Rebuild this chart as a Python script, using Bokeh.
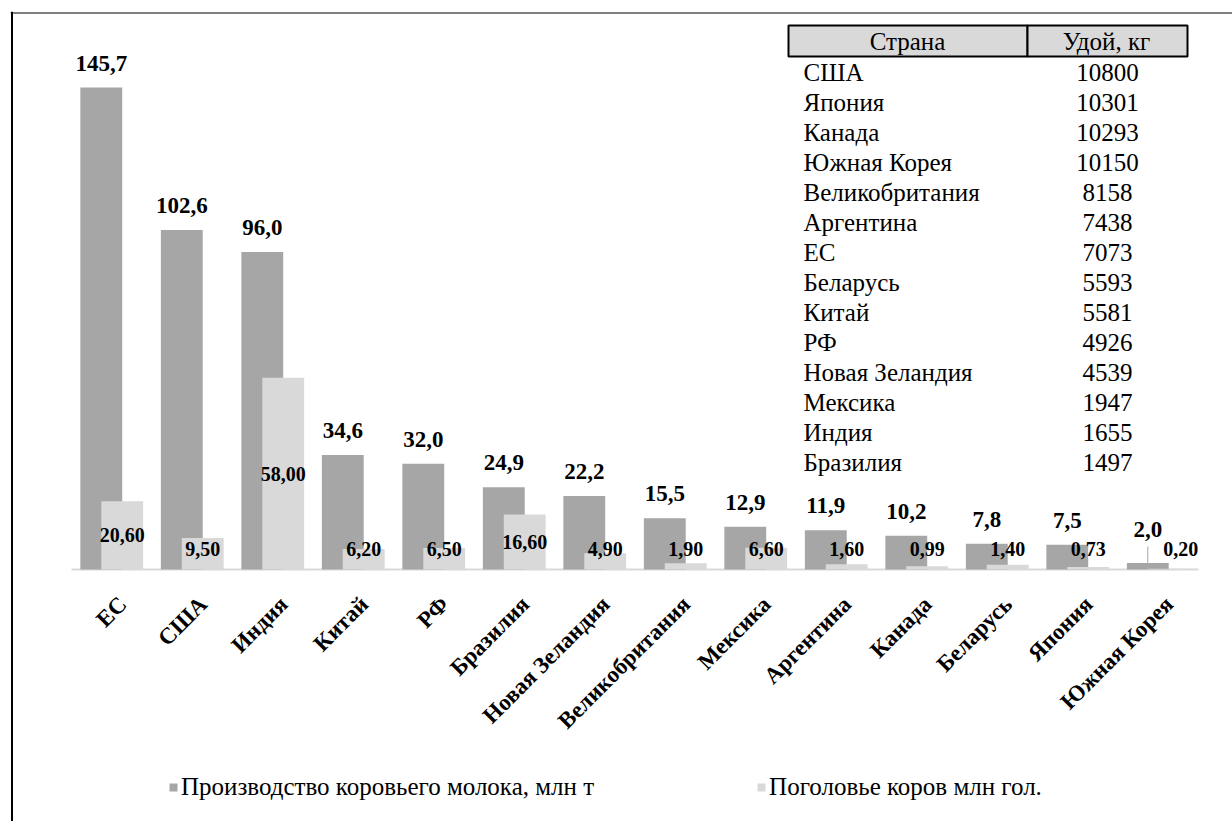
import math
from bokeh.plotting import figure
from bokeh.models import ColumnDataSource, Range1d, Span, Legend
from bokeh.transform import dodge
from bokeh.core.properties import value
from bokeh.embed import file_html
from bokeh.resources import INLINE

# ---------------- data ----------------
countries = ["ЕС", "США", "Индия", "Китай", "РФ", "Бразилия", "Новая Зеландия",
             "Великобритания", "Мексика", "Аргентина", "Канада", "Беларусь",
             "Япония", "Южная Корея"]
milk_production = [145.7, 102.6, 96.0, 34.6, 32.0, 24.9, 22.2, 15.5, 12.9, 11.9,
                   10.2, 7.8, 7.5, 2.0]
cow_numbers = [20.60, 9.50, 58.00, 6.20, 6.50, 16.60, 4.90, 1.90, 6.60, 1.60,
               0.99, 1.40, 0.73, 0.20]

table_countries = ["США", "Япония", "Канада", "Южная Корея", "Великобритания",
                   "Аргентина", "ЕС", "Беларусь", "Китай", "РФ", "Новая Зеландия",
                   "Мексика", "Индия", "Бразилия"]
table_yield = [10800, 10301, 10293, 10150, 8158, 7438, 7073, 5593, 5581, 4926,
               4539, 1947, 1655, 1497]
table_header = ["Страна", "Удой, кг"]

series_names = ["Производство коровьего молока, млн т", "Поголовье коров млн гол."]

# ---------------- layout helpers (pixel -> data) ----------------
X0_PX, PX_PER_CAT = 111.25, 80.5
BASE_PX, PX_PER_UNIT = 569.0, 3.308


def dx(px):
    return (px - X0_PX) / PX_PER_CAT


def dy(py):
    return (BASE_PX - py) / PX_PER_UNIT


DARK = "#a6a6a6"
LIGHT = "#d9d9d9"
SERIF = "Liberation Serif"

p = figure(width=1232, height=821, output_backend="svg", toolbar_location=None,
           x_range=Range1d(dx(10), dx(1232)), y_range=Range1d(dy(821), dy(11)),
           x_axis_location=None, y_axis_location=None,
           min_border_left=10, min_border_top=11, min_border_right=0, min_border_bottom=0)
p.grid.grid_line_color = None
p.outline_line_color = None
p.background_fill_color = "white"

n = len(countries)
idx = list(range(n))
src = ColumnDataSource(dict(
    idx=idx, country=countries, prod=milk_production, cows=cow_numbers,
    prod_lbl=[f"{v:.1f}".replace(".", ",") for v in milk_production],
    prod_lbl_dy=[-24.5] * (n - 1) + [-33],
    cows_lbl=[f"{v:.2f}".replace(".", ",") for v in cow_numbers],
    cows_lbl_y=[max(v / 2, dy(548)) for v in cow_numbers],
    cows_lbl_dx=[0] * (n - 1) + [12],
))

OFF = 0.13
W = 0.52

# category axis baseline
p.segment(x0=[-0.5], x1=[n - 0.5], y0=[0], y1=[0], line_color=LIGHT, line_width=2)

r1 = p.vbar(x=dodge("idx", -OFF), top="prod", width=W, source=src,
            fill_color=DARK, line_color=None)
r2 = p.vbar(x=dodge("idx", OFF), top="cows", width=W, source=src,
            fill_color=LIGHT, line_color=None)

# leader line for the tiny last value
last = n - 1
p.segment(x0=[last - OFF], x1=[last - OFF], y0=[dy(546)], y1=[milk_production[last]],
          line_color=DARK, line_width=1)

# value labels
p.text(x=dodge("idx", -OFF), y="prod", text="prod_lbl", source=src,
       text_align="center", text_baseline="middle", y_offset="prod_lbl_dy",
       text_font=value(SERIF), text_font_style="bold", text_font_size="23px",
       text_color="black")
p.text(x=dodge("idx", OFF), y="cows_lbl_y", text="cows_lbl", source=src,
       x_offset="cows_lbl_dx",
       text_align="center", text_baseline="middle",
       text_font=value(SERIF), text_font_style="bold", text_font_size="20px",
       text_color="black")

# category labels
p.text(x="idx", y=dy(600), text="country", source=src, angle=math.pi / 4,
       x_offset=11, text_align="right", text_baseline="middle",
       text_font=value(SERIF), text_font_style="bold", text_font_size="23px",
       text_color="black")

# ---------------- table ----------------
p.quad(left=[dx(788), dx(1027)], right=[dx(1027), dx(1187)],
       top=[dy(25)] * 2, bottom=[dy(56)] * 2,
       fill_color=LIGHT, line_color="black", line_width=2)
p.text(x=[dx(907), dx(1106)], y=[dy(40.5)] * 2, text=table_header,
       text_align="center", text_baseline="middle",
       text_font=value(SERIF), text_font_size="25px", text_color="black")
rows_y = [dy(72 + 30 * k) for k in range(len(table_countries))]
p.text(x=[dx(803)] * len(table_countries), y=rows_y, text=table_countries,
       text_align="left", text_baseline="middle",
       text_font=value(SERIF), text_font_size="25px", text_color="black")
p.text(x=[dx(1107)] * len(table_yield), y=rows_y, text=[str(v) for v in table_yield],
       text_align="center", text_baseline="middle",
       text_font=value(SERIF), text_font_size="25px", text_color="black")

# ---------------- frame border ----------------
p.add_layout(Span(location=dx(11.5), dimension="height", line_color="black", line_width=2))
p.add_layout(Span(location=dy(12.5), dimension="width", line_color="black", line_width=1))

# ---------------- legend ----------------
legend = Legend(items=[(series_names[0], [r1]), (series_names[1], [r2])],
                location=(158, 20), orientation="horizontal",
                glyph_width=10, glyph_height=10, label_standoff=3, spacing=162,
                padding=0, margin=0, border_line_color=None,
                background_fill_alpha=0,
                label_text_font=SERIF, label_text_font_size="25px",
                label_text_color="black")
p.add_layout(legend)

open("out.html", "w").write(file_html(p, INLINE))
